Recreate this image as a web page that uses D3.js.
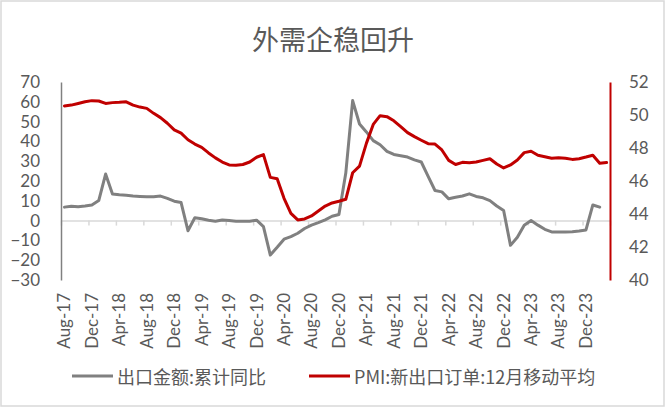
<!DOCTYPE html>
<html>
<head>
<meta charset="utf-8">
<script src="https://cdn.jsdelivr.net/npm/d3@7/dist/d3.min.js"></script>
<style>
  html, body { margin: 0; padding: 0; background: #fff; }
  svg { display: block; }
</style>
</head>
<body>
<svg id="chart" width="667" height="409"></svg>
<script>
// ---------- DATA ----------
const startMonth = new Date(2017, 7, 1);   // Aug-17
const monthCount = 80;                      // Aug-17 .. Mar-24
const categories = d3.timeMonths(startMonth, d3.timeMonth.offset(startMonth, monthCount));

const xTickLabels = ["Aug-17","Dec-17","Apr-18","Aug-18","Dec-18","Apr-19","Aug-19","Dec-19",
  "Apr-20","Aug-20","Dec-20","Apr-21","Aug-21","Dec-21","Apr-22","Aug-22","Dec-22","Apr-23","Aug-23","Dec-23"];
const leftTicks = [-30, -20, -10, 0, 10, 20, 30, 40, 50, 60, 70];
const rightTicks = [40, 42, 44, 46, 48, 50, 52];

// 出口金额:累计同比 (left axis, %)
const exportYoY = [
  6.8, 7.3, 7.0, 7.4, 7.9, 10.1, 23.5, 13.4, 13.0, 12.8,
  12.4, 12.2, 12.0, 12.0, 12.4, 11.2, 9.8, 9.1, -5.1, 1.4,
  0.9, 0.2, -0.3, 0.3, 0.0, -0.3, -0.3, -0.3, 0.2, -3.0,
  -17.4, -13.5, -9.4, -8.1, -6.4, -4.0, -2.3, -1.0, 0.4, 2.2,
  3.1, 24.0, 60.6, 48.8, 44.8, 40.4, 38.3, 35.0, 33.4, 32.8,
  32.1, 30.7, 29.6, 22.3, 15.2, 14.5, 11.0, 11.8, 12.4, 13.5,
  12.2, 11.5, 10.1, 7.4, 5.1, -12.5, -8.4, -2.3, 0.0, -2.3,
  -4.4, -5.7, -5.7, -5.7, -5.6, -5.2, -4.7, 7.9, 6.8, null
];

// PMI:新出口订单:12月移动平均 (right axis)
const pmiNewExport = [
  50.55, 50.6, 50.7, 50.8, 50.87, 50.85, 50.7, 50.75, 50.77, 50.8,
  50.6, 50.48, 50.4, 50.1, 49.84, 49.5, 49.1, 48.9, 48.5, 48.24,
  48.04, 47.7, 47.4, 47.15, 46.97, 46.95, 47.0, 47.15, 47.44, 47.6,
  46.22, 46.14, 44.95, 44.04, 43.64, 43.7, 43.88, 44.18, 44.48, 44.67,
  44.77, 44.89, 46.5, 46.9, 48.28, 49.43, 49.96, 49.9, 49.65, 49.3,
  48.93, 48.69, 48.47, 48.26, 48.24, 47.88, 47.25, 47.0, 47.13, 47.1,
  47.15, 47.25, 47.35, 47.03, 46.79, 46.97, 47.27, 47.72, 47.8, 47.56,
  47.47, 47.38, 47.41, 47.38, 47.31, 47.35, 47.45, 47.56, 47.07, 47.12
];

const seriesNames = ["出口金额:累计同比", "PMI:新出口订单:12月移动平均"];
const title = "外需企稳回升";

// ---------- DRAW ----------
const svg = d3.select("#chart");
const numFont = "Lato, 'Liberation Sans', sans-serif";
const cjkFont = "'Noto Sans CJK SC', 'Liberation Sans', sans-serif";
const textColor = "#595959";
const grey = "#808080", red = "#C00000";

// outer border
svg.append("rect").attr("x", 1).attr("y", 1).attr("width", 663).attr("height", 405)
  .attr("fill", "#fff").attr("stroke", "#d9d9d9").attr("stroke-width", 1.5);

const plotL = 61, plotR = 610, plotT = 82, plotB = 280;

const x = d3.scaleBand().domain(categories).range([plotL, plotR]).padding(0);
const bw = x.bandwidth();
const xb = d3.scaleLinear().domain([0, monthCount]).range([plotL, plotR]);
const yL = d3.scaleLinear().domain([-30, 70]).range([plotB, plotT]);
const yR = d3.scaleLinear().domain([40, 52]).range([plotB, plotT]);

// title
svg.append("text").attr("x", 333).attr("y", 38).attr("text-anchor", "middle")
  .attr("dominant-baseline", "central")
  .style("font-family", cjkFont).style("font-size", "27px").attr("fill", textColor)
  .text(title);

// x axis line (at 0 of left axis) with ticks at category boundaries
const xAxis = svg.append("g").attr("transform", `translate(0,${yL(0)})`)
  .call(d3.axisBottom(xb).tickValues(d3.range(0, monthCount + 1, 4)).tickFormat("").tickSize(5).tickSizeOuter(0));
xAxis.select(".domain").attr("stroke", "#d9d9d9").attr("stroke-width", 1.5);
xAxis.selectAll(".tick line").attr("stroke", "#d9d9d9").attr("stroke-width", 1.5);

// x tick labels (rotated)
const labelCats = categories.filter((d, i) => i % 4 === 0);
svg.append("g").selectAll("text").data(labelCats).join("text")
  .attr("transform", (d) => `translate(${x(d) + bw / 2},293) rotate(-90)`)
  .attr("text-anchor", "end").attr("dy", "0.35em")
  .style("font-family", numFont).style("font-size", "17px").attr("fill", textColor)
  .text((d, i) => xTickLabels[i]);

// left axis
const gL = svg.append("g").attr("transform", `translate(${plotL},0)`)
  .call(d3.axisLeft(yL).tickValues(leftTicks).tickSize(0).tickPadding(21));
gL.select(".domain").attr("stroke", grey).attr("stroke-width", 1.5);
gL.selectAll("text").style("font-family", numFont).style("font-size", "17px").attr("fill", textColor);

// lines
const lineL = d3.line().defined(d => d.v != null)
  .x(d => x(d.c) + bw / 2).y(d => yL(d.v));
const lineR = d3.line().defined(d => d.v != null)
  .x(d => x(d.c) + bw / 2).y(d => yR(d.v));

const gData = categories.map((c, i) => ({ c, v: exportYoY[i] })).filter(d => d.v != null);
const rData = categories.map((c, i) => ({ c, v: pmiNewExport[i] }));

svg.append("path").datum(gData).attr("d", lineL)
  .attr("fill", "none").attr("stroke", grey).attr("stroke-width", 3)
  .attr("stroke-linejoin", "round").attr("stroke-linecap", "round");
svg.append("path").datum(rData).attr("d", lineR)
  .attr("fill", "none").attr("stroke", red).attr("stroke-width", 3)
  .attr("stroke-linejoin", "round").attr("stroke-linecap", "round");

// right axis
const gR = svg.append("g").attr("transform", `translate(${plotR},0)`)
  .call(d3.axisRight(yR).tickValues(rightTicks).tickSize(0).tickPadding(19));
gR.select(".domain").attr("stroke", red).attr("stroke-width", 2);
gR.selectAll("text").style("font-family", numFont).style("font-size", "17px").attr("fill", textColor);

// legend
const legendY = 376;
const legend = [
  { name: seriesNames[0], color: grey, x0: 72 },
  { name: seriesNames[1], color: red, x0: 309 }
];
const lg = svg.append("g").selectAll("g").data(legend).join("g");
lg.append("line").attr("x1", d => d.x0).attr("x2", d => d.x0 + 41)
  .attr("y1", legendY).attr("y2", legendY).attr("stroke", d => d.color).attr("stroke-width", 3);
lg.append("text").attr("x", d => d.x0 + 45).attr("y", legendY).attr("dominant-baseline", "central")
  .style("font-family", cjkFont).style("font-size", "18px").attr("fill", textColor)
  .text(d => d.name);
</script>
</body>
</html>
